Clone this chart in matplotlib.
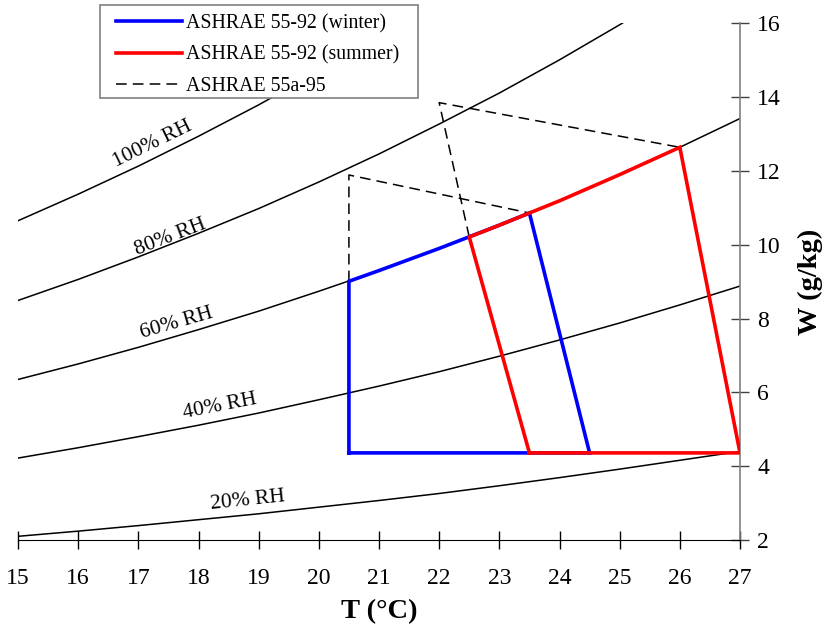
import matplotlib
matplotlib.use('Agg')
import matplotlib.pyplot as plt
from matplotlib.patches import Rectangle

plt.rcParams['font.family'] = ['Liberation Serif', 'DejaVu Serif']

# relative humidity curves, humidity ratio W (g/kg) read at whole degrees
temps = [15, 16, 17, 18, 19, 20, 21, 22, 23, 24, 25, 26, 27]
rh100 = [10.65, 11.37, 12.13, 12.94, 13.79, 14.70, 15.66, 16.67, 17.74, 18.8, 19.9, 21.0, 22.2]
rh80 = [8.49, 9.06, 9.67, 10.31, 10.98, 11.70, 12.46, 13.27, 14.11, 15.01, 15.96, 16.97, 18.0]
rh60 = [6.35, 6.77, 7.22, 7.70, 8.20, 8.74, 9.30, 9.90, 10.53, 11.19, 11.90, 12.64, 13.42]
rh40 = [4.22, 4.50, 4.80, 5.11, 5.44, 5.80, 6.17, 6.56, 6.98, 7.42, 7.88, 8.37, 8.88]
rh20 = [2.10, 2.24, 2.39, 2.55, 2.71, 2.89, 3.07, 3.26, 3.47, 3.69, 3.92, 4.16, 4.40]
rh_labels = ['100% RH', '80% RH', '60% RH', '40% RH', '20% RH']
label_T = [17.24, 17.53, 17.64, 18.36, 18.82]
label_W = [12.73, 10.21, 7.88, 5.63, 3.06]
label_rot = [26, 21, 16, 11, 6]

# comfort zones
winter_T = [20.5, 20.5, 21, 22, 23, 23.5, 24.5, 20.5]
winter_W = [4.36, 9.01, 9.30, 9.90, 10.53, 10.86, 4.36, 4.36]
summer_T = [23.5, 22.5, 23, 24, 25, 26, 27, 23.5]
summer_W = [4.36, 10.21, 10.53, 11.19, 11.90, 12.64, 4.36, 4.36]
win95_T = [20.5, 20.5, 23.5]
win95_W = [9.01, 11.89, 10.86]
sum95_T = [22.5, 22.0, 26.0]
sum95_W = [10.21, 13.85, 12.64]

W, H = 825, 634
fig = plt.figure(figsize=(W/100, H/100), dpi=100)
ax = fig.add_axes([18/W, 1-540/H, 722/W, 516.7/H])

for w in [rh100, rh80, rh60, rh40, rh20]:
    ax.plot(temps, w, color='black', lw=1.1, zorder=2)
for txt, t, w, r in zip(rh_labels, label_T, label_W, label_rot):
    ax.text(t, w, txt, rotation=r, ha='center', va='center', fontsize=15.5,
            rotation_mode='anchor', zorder=3)

l3, = ax.plot(win95_T, win95_W, color='black', lw=1.1, ls=(0, (7, 4)), zorder=3)
ax.plot(sum95_T, sum95_W, color='black', lw=1.1, ls=(0, (7, 4)), zorder=3)
l1, = ax.plot(winter_T, winter_W, color='blue', lw=2.6, zorder=4,
              solid_joinstyle='miter')
l2, = ax.plot(summer_T, summer_W, color='red', lw=2.6, zorder=5,
              solid_joinstyle='miter')

ax.set_xlim(15, 27)
ax.set_ylim(2, 16)
ax.set_xticks(range(15, 28))
ax.set_yticks(range(2, 17, 2))
ax.spines['top'].set_visible(False)
ax.spines['left'].set_visible(False)
ax.spines['bottom'].set_color('black')
ax.spines['right'].set_color('gray')
ax.spines['right'].set_linewidth(1.2)
ax.yaxis.tick_right()
ax.yaxis.set_label_position('right')
ax.tick_params(axis='x', direction='inout', length=13, width=1, pad=14, labelsize=17)
ax.tick_params(axis='y', direction='inout', length=13, width=1, pad=6, labelsize=17,
               color='#404040')
ax.set_xlabel('T (°C)', fontsize=20.5, fontweight='bold', labelpad=7)
ax.set_ylabel('W (g/kg)', fontsize=20.5, fontweight='bold', labelpad=12)

# legend frame drawn separately so its padding matches the original box
fig.patches.append(Rectangle((100/W, 1-98/H), 318/W, 93/H, transform=fig.transFigure,
                             facecolor='white', edgecolor='gray', lw=1.2, zorder=3))
fig.legend([l1, l2, l3],
           ['ASHRAE 55-92 (winter)', 'ASHRAE 55-92 (summer)', 'ASHRAE 55a-95'],
           loc='upper left', bbox_to_anchor=(116/W, 1-14/H), fontsize=14.3,
           frameon=False, handlelength=3.3, handletextpad=0.2, borderpad=0,
           borderaxespad=0, labelspacing=0.62)

fig.savefig('out.png', dpi=100)
